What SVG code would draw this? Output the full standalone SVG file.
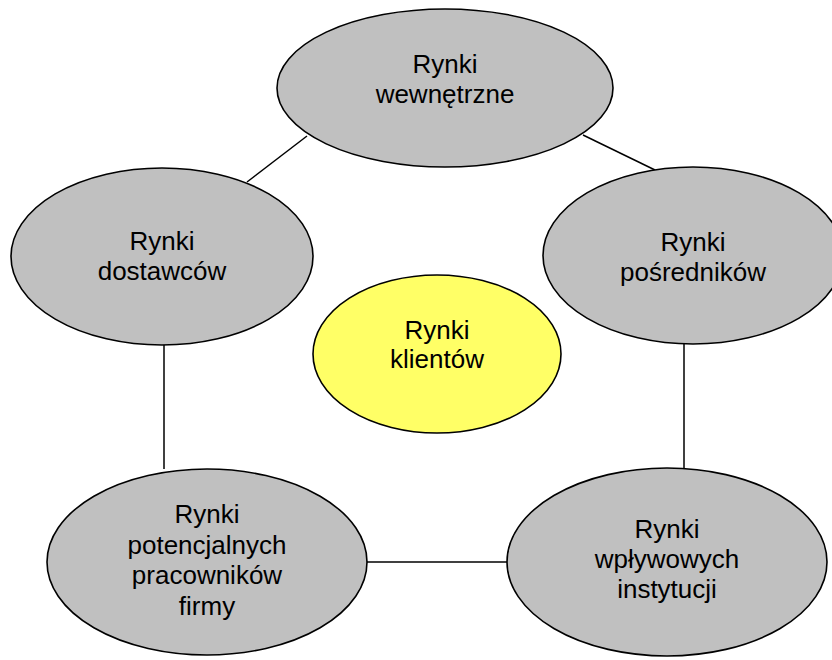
<svg xmlns="http://www.w3.org/2000/svg" width="832" height="660" viewBox="0 0 832 660">
<style>
.n{fill:#C0C0C0;stroke:#000;stroke-width:1.6}
.y{fill:#FFFF66;stroke:#000;stroke-width:1.6}
.c line{stroke:#000;stroke-width:1.5}
text{font-family:"Liberation Sans",Arial,sans-serif;font-size:26px;fill:#000;text-anchor:middle}
</style>
<rect width="832" height="660" fill="#fff"/>
<g class="c" id="connectors">
<line x1="247" y1="182" x2="307" y2="136"/>
<line x1="583" y1="135" x2="655" y2="170"/>
<line x1="164" y1="345" x2="164" y2="469"/>
<line x1="684" y1="344" x2="684" y2="468"/>
<line x1="367" y1="562" x2="507" y2="562"/>
</g>
<g id="wewnetrzne">
<ellipse class="n" cx="445" cy="88" rx="168" ry="79"/>
<text x="445" y="73">Rynki</text>
<text x="445" y="103">wewnętrzne</text>
</g>
<g id="dostawcow">
<ellipse class="n" cx="162" cy="256.5" rx="151" ry="88.5"/>
<text x="162" y="250">Rynki</text>
<text x="162" y="280">dostawców</text>
</g>
<g id="posrednikow">
<ellipse class="n" cx="693" cy="255.5" rx="150" ry="88.5"/>
<text x="693" y="251">Rynki</text>
<text x="693" y="281">pośredników</text>
</g>
<g id="klientow">
<ellipse class="y" cx="437" cy="354" rx="124" ry="79"/>
<text x="437" y="339">Rynki</text>
<text x="437" y="368">klientów</text>
</g>
<g id="pracownikow">
<ellipse class="n" cx="207" cy="562" rx="160" ry="93"/>
<text x="207" y="523">Rynki</text>
<text x="207" y="554">potencjalnych</text>
<text x="207" y="584">pracowników</text>
<text x="207" y="615">firmy</text>
</g>
<g id="instytucji">
<ellipse class="n" cx="667" cy="562" rx="160" ry="94"/>
<text x="667" y="538">Rynki</text>
<text x="667" y="568">wpływowych</text>
<text x="667" y="598">instytucji</text>
</g>
</svg>
